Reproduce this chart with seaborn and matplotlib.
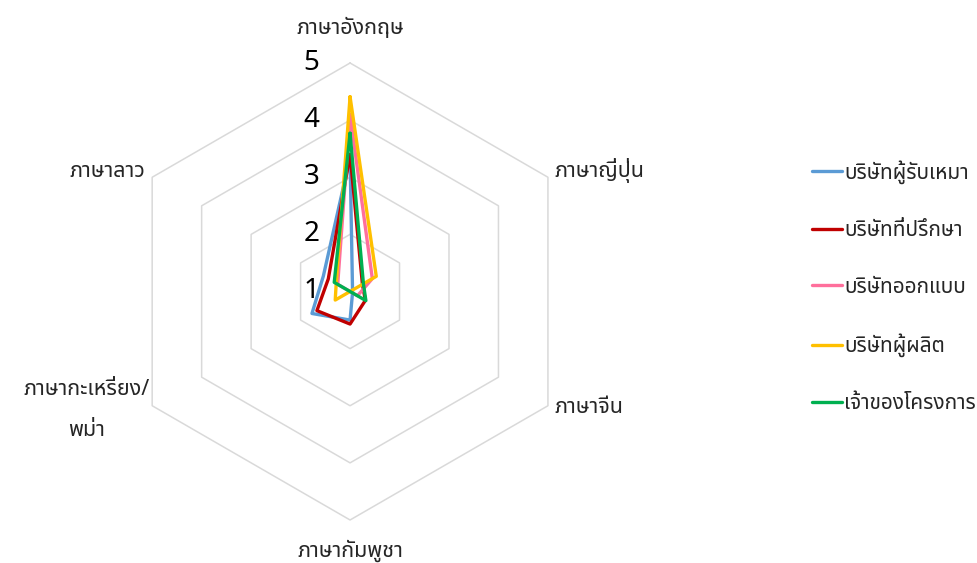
import numpy as np
import pandas as pd
import matplotlib
matplotlib.use("Agg")
import matplotlib.pyplot as plt
import seaborn as sns
from matplotlib import font_manager as fm
from matplotlib.ft2font import FT2Font
from matplotlib.lines import Line2D

# ---------------- data ----------------
categories = ["ภาษาอังกฤษ", "ภาษาญี่ปุ่น", "ภาษาจีน", "ภาษากัมพูชา",
              "ภาษากะเหรี่ยง/\nพม่า", "ภาษาลาว"]
series_names = ["บริษัทผู้รับเหมา", "บริษัทที่ปรึกษา", "บริษัทออกแบบ",
                "บริษัทผู้ผลิต", "เจ้าของโครงการ"]
contractor = [3.35, 1.05, 1.05, 1.50, 1.77, 1.54]
consultant = [3.40, 1.25, 1.31, 1.57, 1.67, 1.44]
designer = [4.10, 1.45, 1.15, 1.00, 1.00, 1.25]
manufacturer = [4.41, 1.53, 1.00, 1.00, 1.30, 1.28]
owner = [3.77, 1.27, 1.32, 1.00, 1.00, 1.32]
series_values = [contractor, consultant, designer, manufacturer, owner]
colors = ["#5B9BD5", "#C00000", "#FF6F9C", "#FFC000", "#00B050"]
tick_values = [1, 2, 3, 4, 5]

# ---------------- fonts ----------------
sns.set_theme(style="white")


def _has_thai(path):
    try:
        f = FT2Font(path)
        cmap = f.get_charmap()
        return all(ord(c) in cmap for c in "ภาษาอังกฤษเจ้า")
    except Exception:
        return False


thai_family = None
preferred = ["Leelawadee UI", "Leelawadee", "Tahoma", "Noto Sans Thai",
             "Noto Sans Thai UI", "Sarabun", "Loma", "Garuda", "Kinnari",
             "Norasi", "Umpush", "Waree", "Sawasdee", "Laksaman"]
cands = {}
for fe in fm.fontManager.ttflist:
    if fe.name not in cands and _has_thai(fe.fname):
        cands[fe.name] = fe.fname
for p in preferred:
    if p in cands:
        thai_family = p
        break
if thai_family is None and cands:
    thai_family = sorted(cands)[0]

fam = ([thai_family] if thai_family else []) + ["DejaVu Sans"]
plt.rcParams["font.family"] = fam

# ---------------- figure ----------------
fig = plt.figure(figsize=(9.77, 5.63), dpi=100)
fig.patch.set_facecolor("white")
ax = fig.add_axes([0.1244, 0.0764, 0.4678, 0.8117], projection="polar")
ax.set_theta_zero_location("N")
ax.set_theta_direction(-1)
ax.set_ylim(1, 5)
ax.grid(False)
ax.spines["polar"].set_visible(False)
ax.set_xticks([])
ax.set_yticks([])
ax.set_facecolor("none")

n = len(categories)
theta = np.linspace(0, 2 * np.pi, n, endpoint=False)
theta_c = np.concatenate([theta, theta[:1]])

# hexagonal grid rings
for v in tick_values[1:]:
    ax.plot(theta_c, [v] * (n + 1), color="#D9D9D9", lw=1.1, zorder=0,
            clip_on=False)

# series
for name, vals, col in zip(series_names, series_values, colors):
    vc = list(vals) + [vals[0]]
    df = pd.DataFrame({"theta": theta_c, "value": vc})
    sns.lineplot(data=df, x="theta", y="value", ax=ax, sort=False,
                 estimator=None, color=col, linewidth=2.4, clip_on=False,
                 legend=False)
ax.set_xlabel("")
ax.set_ylabel("")
ax.set_xticks([])
ax.set_yticks([])
ax.set_ylim(1, 5)

# radial tick labels
for v in tick_values:
    ax.annotate(str(v), xy=(0, v), xytext=(-22, 0), textcoords="offset points",
                ha="right", va="center", fontsize=20, color="#000000")

# category labels
lab_fs = 15.5
offsets = [((0, 25), "center", "center"),
           ((5, 5), "left", "center"),
           ((5, -1.5), "left", "center"),
           ((0, -22), "center", "center"),
           ((-1.5, -3), "right", "center"),
           ((-5, 4), "right", "center")]
for t, lab, (off, ha, va) in zip(theta, categories, offsets):
    ax.annotate(lab, xy=(t, 5), xytext=off, textcoords="offset points",
                ha=ha, va=va, fontsize=lab_fs, color="#262626",
                multialignment="center", linespacing=2.3,
                annotation_clip=False)

# legend
leg_fs = 15
handles = [Line2D([0], [0], color=c, lw=2.4) for c in colors]
fig.legend(handles, series_names, loc="center left",
           bbox_to_anchor=(0.831, 0.490), frameon=False, fontsize=leg_fs,
           handlelength=1.45, handletextpad=0.1, labelspacing=1.72,
           labelcolor="#262626", borderaxespad=0, borderpad=0)

fig.savefig("out.png", dpi=100, facecolor="white")
